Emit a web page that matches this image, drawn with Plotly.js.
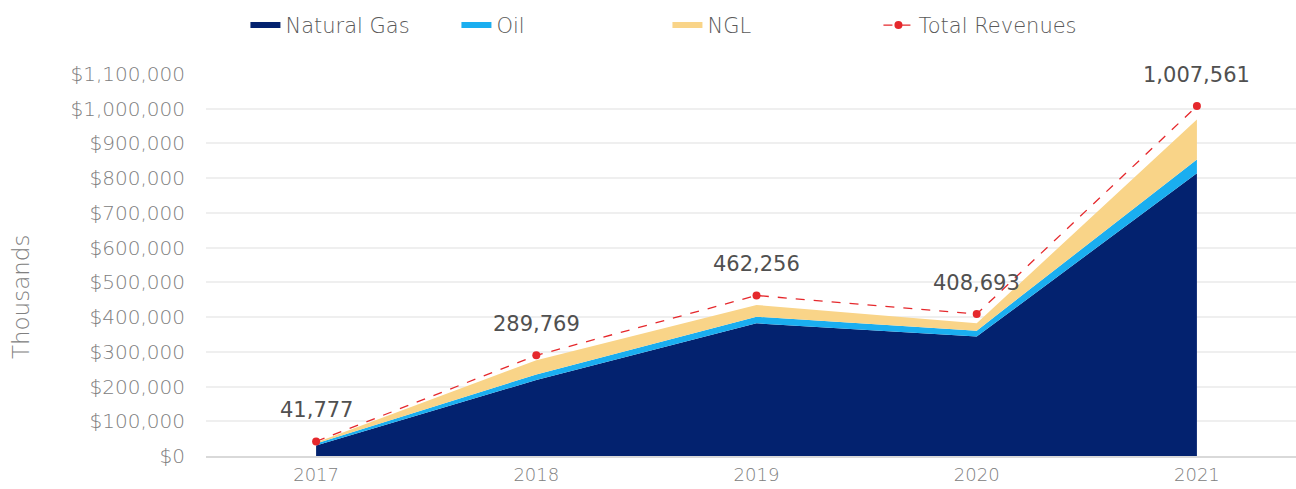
<!DOCTYPE html>
<html>
<head>
<meta charset="utf-8">
<script src="https://cdn.plot.ly/plotly-3.0.1.min.js"></script>
<style>html,body{margin:0;padding:0;background:#fff;}#chart{width:1296px;height:489px;}</style>
</head>
<body>
<div id="chart"></div>
<script>
const years = ['2017', '2018', '2019', '2020', '2021'];
const naturalGas = [30000, 219000, 382000, 344000, 814000];
const oil = [6000, 16000, 19000, 17000, 40000];
const ngl = [3000, 41000, 34000, 21000, 115000];
const totalRevenues = [41777, 289769, 462256, 408693, 1007561];
const yTicks = [0, 100000, 200000, 300000, 400000, 500000, 600000, 700000, 800000, 900000, 1000000, 1100000];
const yTitle = 'Thousands';

const fontFam = '"DejaVu Sans", sans-serif';
const fmt = v => v.toLocaleString('en-US');
const fmtDollar = v => '$' + v.toLocaleString('en-US');

const traces = [
  {x: years, y: naturalGas, name: 'Natural Gas', type: 'scatter', mode: 'none', stackgroup: 'one',
   fillcolor: '#03226f', line: {width: 0}},
  {x: years, y: oil, name: 'Oil', type: 'scatter', mode: 'none', stackgroup: 'one',
   fillcolor: '#1aaef0', line: {width: 0}},
  {x: years, y: ngl, name: 'NGL', type: 'scatter', mode: 'none', stackgroup: 'one',
   fillcolor: '#f9d488', line: {width: 0}},
  {x: years, y: totalRevenues, name: 'Total Revenues', type: 'scatter', mode: 'lines+markers',
   line: {color: '#e5282c', width: 1.3, dash: 'dash'}, marker: {color: '#e5282c', size: 8}}
];

const annotations = years.map((yr, i) => ({
  x: i, y: totalRevenues[i], xref: 'x', yref: 'y', text: fmt(totalRevenues[i]),
  showarrow: false, yshift: 31, font: {family: fontFam, size: 21, color: '#505050', weight: 400}
}));
annotations.push({
  xref: 'paper', yref: 'paper', x: 0, y: 0.416, xshift: -200, textangle: -90,
  text: yTitle, showarrow: false, font: {family: fontFam, size: 23, color: '#808080', weight: 200}
});

const layout = {
  width: 1296, height: 489,
  margin: {l: 206, r: 0, t: 74, b: 33},
  paper_bgcolor: '#ffffff', plot_bgcolor: '#ffffff',
  font: {family: fontFam, color: '#808080', size: 18},
  showlegend: true,
  legend: {orientation: 'h', xref: 'container', yref: 'container', x: 0.515, xanchor: 'center',
           y: 0.99, yanchor: 'top', font: {family: fontFam, size: 21, color: '#595959', weight: 200},
           entrywidth: 166, entrywidthmode: 'pixels', tracegroupgap: 0, traceorder: 'normal'},
  xaxis: {type: 'category', range: [-0.5, 4.45], showgrid: false, zeroline: false,
          showline: true, linecolor: '#d9d9d9', linewidth: 2, ticks: '',
          tickfont: {family: fontFam, size: 18, color: '#808080', weight: 200}, ticklabelstandoff: 1},
  yaxis: {range: [0, 1100000], tickvals: yTicks, ticktext: yTicks.map(fmtDollar),
          showgrid: true, gridcolor: '#efefef', gridwidth: 2, zeroline: false, showline: false,
          ticks: '', ticklabelstandoff: 20,
          tickfont: {family: fontFam, size: 20, color: '#808080', weight: 200}},
  annotations: annotations
};

Plotly.newPlot('chart', traces, layout, {displayModeBar: false, staticPlot: true});
</script>
</body>
</html>
